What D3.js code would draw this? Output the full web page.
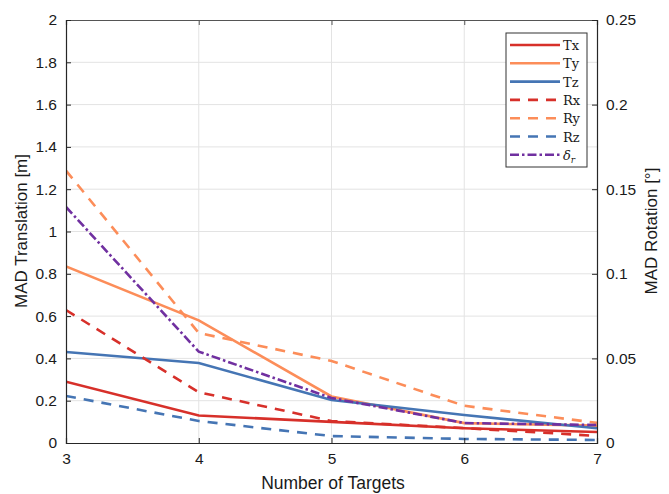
<!DOCTYPE html>
<html><head><meta charset="utf-8">
<script src="https://cdn.jsdelivr.net/npm/d3@7"></script>
<style>body{margin:0;background:#fff}svg{display:block}</style>
</head><body><svg id="c" width="669" height="494"></svg>
<script>
const targets = [3,4,5,6,7];
// translation [m] (left axis)
const Tx = [0.29,0.13,0.10,0.07,0.052];
const Ty = [0.835,0.58,0.22,0.094,0.082];
const Tz = [0.43,0.378,0.203,0.132,0.07];
// rotation [deg] (right axis)
const Rx = [0.0786,0.030,0.013,0.0088,0.0042];
const Ry = [0.161,0.065,0.0485,0.022,0.0119];
const Rz = [0.0278,0.013,0.0041,0.0024,0.0018];
const dr = [0.1395,0.054,0.0266,0.0118,0.0106];
const leftTicks = [0,0.2,0.4,0.6,0.8,1,1.2,1.4,1.6,1.8,2];
const rightTicks = [0,0.05,0.1,0.15,0.2,0.25];
const xTicks = [3,4,5,6,7];

const red="#d7302a", orange="#fc8d59", blue="#4575b4", purple="#7030a0";
const series = [
  {name:"Tx", data:Tx, axis:"L", color:red, dash:null},
  {name:"Ty", data:Ty, axis:"L", color:orange, dash:null},
  {name:"Tz", data:Tz, axis:"L", color:blue, dash:null},
  {name:"Rx", data:Rx, axis:"R", color:red, dash:"10,8"},
  {name:"Ry", data:Ry, axis:"R", color:orange, dash:"10,8"},
  {name:"Rz", data:Rz, axis:"R", color:blue, dash:"10,8"},
  {name:"δr", data:dr, axis:"R", color:purple, dash:"9,3,2.5,3"}
];

const L=66,R=597,T=20,B=443;
const svg=d3.select("#c");
const x=d3.scaleLinear().domain([3,7]).range([L,R]);
const yL=d3.scaleLinear().domain([0,2]).range([B,T]);
const yR=d3.scaleLinear().domain([0,0.25]).range([B,T]);
const font="'Liberation Sans', Arial, sans-serif";

// grid
const g=svg.append("g");
g.selectAll("line.h").data(leftTicks.slice(1,-1)).join("line")
 .attr("x1",L).attr("x2",R).attr("y1",d=>yL(d)).attr("y2",d=>yL(d))
 .attr("stroke","#e3e3e3").attr("stroke-width",1);
g.selectAll("line.v").data(xTicks.slice(1,-1)).join("line")
 .attr("x1",d=>x(d)).attr("x2",d=>x(d)).attr("y1",T).attr("y2",B)
 .attr("stroke","#e3e3e3").attr("stroke-width",1);

// lines
svg.append("clipPath").attr("id","cp").append("rect").attr("x",L).attr("y",T).attr("width",R-L).attr("height",B-T);
const lg=svg.append("g").attr("clip-path","url(#cp)");
series.forEach(s=>{
  const yy=s.axis==="L"?yL:yR;
  const line=d3.line().x((d,i)=>x(targets[i])).y(d=>yy(d));
  lg.append("path").datum(s.data).attr("d",line).attr("fill","none")
    .attr("stroke",s.color).attr("stroke-width",2.6)
    .attr("stroke-dasharray",s.dash);
});

// axes
const ax=svg.append("g").attr("font-family",font);
const axBottom=d3.axisBottom(x).tickValues(xTicks).tickFormat(d3.format("d")).tickSize(-5).tickPadding(10);
const axTop=d3.axisTop(x).tickValues(xTicks).tickFormat("").tickSize(-5);
const axLeft=d3.axisLeft(yL).tickValues(leftTicks).tickFormat(d=>String(d)).tickSize(-5).tickPadding(9);
const axRight=d3.axisRight(yR).tickValues(rightTicks).tickFormat(d=>String(d)).tickSize(-5).tickPadding(9);
function style(sel,col){sel.select(".domain").attr("stroke",col);sel.selectAll(".tick line").attr("stroke",col);sel.selectAll("text").attr("fill","#1a1a1a").style("font-size","15.5px").style("font-family",font);}
style(ax.append("g").attr("transform",`translate(0,${T})`).call(axTop),"#555");
style(ax.append("g").attr("transform",`translate(0,${B})`).call(axBottom),"#262626");
style(ax.append("g").attr("transform",`translate(${L},0)`).call(axLeft),"#262626");
style(ax.append("g").attr("transform",`translate(${R},0)`).call(axRight),"#262626");
ax.selectAll(".domain").attr("stroke-width",1.2);

svg.append("text").attr("x",333).attr("y",489).attr("text-anchor","middle")
 .attr("font-family",font).attr("font-size","17.5px").attr("fill","#1a1a1a").text("Number of Targets");
svg.append("text").attr("transform","translate(27,231) rotate(-90)").attr("text-anchor","middle")
 .attr("font-family",font).attr("font-size","17px").attr("fill","#1a1a1a").text("MAD Translation [m]");
svg.append("text").attr("transform","translate(657,231) rotate(-90)").attr("text-anchor","middle")
 .attr("font-family",font).attr("font-size","17px").attr("fill","#1a1a1a").text("MAD Rotation [°]");

// legend
const lgx=506, lgy=33, lgw=81, lgh=134;
const leg=svg.append("g");
leg.append("rect").attr("x",lgx).attr("y",lgy).attr("width",lgw).attr("height",lgh)
 .attr("fill","#fff").attr("stroke","#333").attr("stroke-width",1);
series.forEach((s,i)=>{
  const yy=lgy+12+i*18.3;
  leg.append("line").attr("x1",lgx+4).attr("x2",lgx+54).attr("y1",yy).attr("y2",yy)
   .attr("stroke",s.color).attr("stroke-width",2.6).attr("stroke-dasharray",s.dash);
  const t=leg.append("text").attr("x",lgx+57).attr("y",yy+5)
   .attr("font-family","'DejaVu Serif','Liberation Serif',serif").attr("font-size","13px").attr("fill","#1a1a1a");
  if(s.name==="δr"){t.append("tspan").attr("font-style","italic").text("δ");t.append("tspan").attr("font-style","italic").attr("font-size","9px").attr("dy",3).text("r");}
  else t.text(s.name);
});
</script></body></html>
